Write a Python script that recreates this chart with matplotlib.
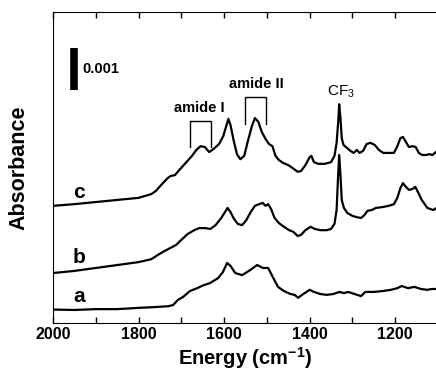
import numpy as np
import matplotlib
matplotlib.use("Agg")
import matplotlib.pyplot as plt
from matplotlib.ticker import MultipleLocator

plt.rcParams['font.family'] = ['Liberation Sans', 'DejaVu Sans']
plt.rcParams['font.weight'] = 'bold'

# spectra, absorbance in units of 1e-3 (offset already applied)
energy_a = [2000, 1950, 1900, 1850, 1800, 1760, 1730, 1719, 1708, 1696, 1680, 1663, 1648, 1633,
            1614, 1603, 1593, 1585, 1574, 1558, 1539, 1523, 1509, 1497, 1485, 1474, 1460, 1445,
            1435, 1427, 1415, 1400, 1390, 1375, 1360, 1345, 1330, 1320, 1310, 1295, 1280, 1270,
            1250, 1230, 1210, 1195, 1185, 1170, 1155, 1140, 1125, 1115, 1100]
abs_a = [0.32, 0.31, 0.33, 0.33, 0.36, 0.38, 0.40, 0.43, 0.55, 0.62, 0.76, 0.83, 0.90, 0.95,
         1.07, 1.21, 1.43, 1.36, 1.19, 1.14, 1.26, 1.38, 1.31, 1.31, 1.07, 0.86, 0.76, 0.69,
         0.67, 0.60, 0.69, 0.79, 0.74, 0.69, 0.67, 0.69, 0.74, 0.71, 0.74, 0.69, 0.64, 0.74,
         0.74, 0.76, 0.79, 0.83, 0.88, 0.83, 0.86, 0.81, 0.79, 0.81, 0.81]

energy_b = [2000, 1950, 1900, 1850, 1800, 1770, 1755, 1740, 1725, 1712, 1700, 1685, 1670, 1658,
            1645, 1632, 1620, 1608, 1598, 1592, 1585, 1577, 1568, 1558, 1548, 1538, 1528, 1518,
            1510, 1503, 1497, 1490, 1482, 1472, 1460, 1448, 1438, 1428, 1420, 1410, 1398, 1388,
            1375, 1360, 1350, 1342, 1337, 1334, 1331, 1328, 1325, 1320, 1312, 1300, 1290, 1280,
            1272, 1265, 1255, 1245, 1230, 1215, 1203, 1195, 1188, 1182, 1175, 1168, 1160, 1153,
            1146, 1138, 1125, 1111, 1100]
abs_b = [1.19, 1.24, 1.31, 1.38, 1.45, 1.52, 1.62, 1.71, 1.79, 1.86, 1.98, 2.12, 2.21, 2.26,
         2.26, 2.24, 2.33, 2.48, 2.64, 2.74, 2.64, 2.48, 2.36, 2.33, 2.45, 2.64, 2.79, 2.83,
         2.86, 2.79, 2.83, 2.71, 2.50, 2.38, 2.29, 2.21, 2.17, 2.07, 2.10, 2.21, 2.29, 2.24,
         2.21, 2.21, 2.24, 2.36, 2.69, 3.40, 4.00, 3.52, 2.93, 2.74, 2.62, 2.55, 2.52, 2.50,
         2.57, 2.67, 2.69, 2.74, 2.76, 2.79, 2.83, 2.98, 3.21, 3.33, 3.24, 3.17, 3.19, 3.24,
         3.10, 2.93, 2.74, 2.69, 2.76]

energy_c = [2000, 1950, 1900, 1850, 1800, 1770, 1760, 1745, 1732, 1725, 1715, 1705, 1690, 1675,
            1665, 1655, 1645, 1635, 1625, 1612, 1602, 1595, 1590, 1585, 1578, 1570, 1562, 1553,
            1545, 1535, 1528, 1520, 1512, 1503, 1495, 1487, 1480, 1472, 1462, 1450, 1440, 1428,
            1420, 1410, 1400, 1396, 1390, 1380, 1365, 1350, 1342, 1337, 1333, 1331, 1328, 1325,
            1321, 1313, 1305, 1297, 1290, 1283, 1275, 1267, 1258, 1248, 1238, 1228, 1215, 1203,
            1195, 1188, 1182, 1175, 1168, 1160, 1152, 1145, 1137, 1128, 1120, 1113, 1105, 1100]
abs_c = [2.79, 2.83, 2.88, 2.93, 2.98, 3.07, 3.14, 3.31, 3.45, 3.50, 3.52, 3.64, 3.81, 3.98,
         4.12, 4.21, 4.19, 4.07, 4.14, 4.26, 4.45, 4.69, 4.86, 4.71, 4.36, 4.02, 3.90, 3.98,
         4.31, 4.69, 4.88, 4.79, 4.55, 4.38, 4.26, 4.21, 3.98, 3.88, 3.81, 3.76, 3.69, 3.60,
         3.62, 3.76, 3.95, 3.98, 3.83, 3.79, 3.79, 3.83, 3.98, 4.29, 4.83, 5.21, 4.88, 4.40,
         4.24, 4.17, 4.10, 4.05, 4.12, 4.05, 4.10, 4.26, 4.29, 4.24, 4.12, 4.05, 4.05, 4.05,
         4.21, 4.40, 4.43, 4.31, 4.19, 4.21, 4.19, 4.05, 4.00, 4.00, 4.02, 4.00, 4.07, 4.05]

curve_labels = ['a', 'b', 'c']
label_y = [0.64, 1.57, 3.10]

fig = plt.figure(figsize=(4.36, 3.81), dpi=100)
ax = fig.add_axes([53/436, 58/381, 385/436, 311/381])

for e, a in [(energy_a, abs_a), (energy_b, abs_b), (energy_c, abs_c)]:
    ax.plot(e, np.array(a) * 1e-3, color='black', lw=1.6)

ax.set_xlim(2000, 1100)
ax.set_ylim(0, 7.405e-3)

# labels for each trace
for lab, y in zip(curve_labels, label_y):
    ax.text(1939, y * 1e-3, lab, fontsize=15, fontweight='bold', ha='center', va='center')

# scale bar
ax.plot([1950, 1950], [5.55e-3, 6.55e-3], color='black', lw=5.5, solid_capstyle='butt')
ax.text(1932, 6.05e-3, '0.001', fontsize=10.5, fontweight='bold', ha='left', va='center')

# band brackets
ax.plot([1680, 1680, 1630, 1630], [4.19e-3, 4.81e-3, 4.81e-3, 4.19e-3], color='black', lw=1.0)
ax.text(1658, 5.12e-3, 'amide I', fontsize=10.5, fontweight='bold', ha='center', va='center')
ax.plot([1551, 1551, 1502, 1502], [4.74e-3, 5.38e-3, 5.38e-3, 4.74e-3], color='black', lw=1.0)
ax.text(1525, 5.69e-3, 'amide II', fontsize=10.5, fontweight='bold', ha='center', va='center')
ax.text(1326, 5.50e-3, r'CF$_\mathregular{3}$', fontsize=11, fontweight='normal',
        ha='center', va='center')

ax.xaxis.set_major_locator(MultipleLocator(200))
ax.xaxis.set_minor_locator(MultipleLocator(100))
ax.tick_params(axis='x', which='both', direction='in', top=True, length=4, width=1,
               labelsize=11.5, pad=3)
ax.set_yticks([])
for lbl in ax.get_xticklabels():
    lbl.set_fontweight('bold')

ax.set_xlabel(r'Energy (cm$^\mathregular{-1}$)', fontsize=14.5, fontweight='bold', labelpad=2)
ax.set_ylabel('Absorbance', fontsize=15.5, fontweight='bold', labelpad=17)

fig.savefig('out.png', dpi=100)
